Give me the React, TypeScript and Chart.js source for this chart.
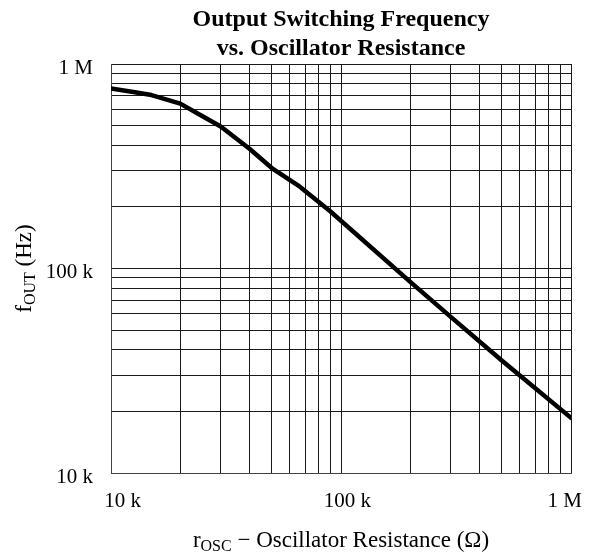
import React, { useEffect, useRef } from 'react';
import { Chart, registerables } from 'chart.js';

Chart.register(...registerables);

// Oscillator resistance (Ω) and output switching frequency (Hz)
const resistanceOhm = [10000, 12500, 15000, 20000, 25000, 30000, 40000, 50000, 65000, 90000, 200000, 300000, 500000, 1000000];
const frequencyHz = [760000, 730000, 705000, 640000, 555000, 495000, 385000, 310000, 255000, 190000, 86000, 58000, 35500, 18600];

// Grid lines (1-2-3-...-9 per decade) and labelled decade ticks
const gridValues = [
  10000, 20000, 30000, 40000, 50000, 60000, 70000, 80000, 90000,
  100000, 200000, 300000, 400000, 500000, 600000, 700000, 800000, 900000,
  1000000,
];
const decadeTicks = [10000, 100000, 1000000];
const decadeLabels = ['10 k', '100 k', '1 M'];

const titleLines = ['Output Switching Frequency', 'vs. Oscillator Resistance'];
const xTitleParts = ['r', 'OSC', ' \u2212 Oscillator Resistance (\u03A9)'];
const yTitleParts = ['f', 'OUT', ' (Hz)'];

const SERIF = '"Liberation Serif", "Times New Roman", serif';

function drawSubText(ctx: CanvasRenderingContext2D, parts: string[], cx: number, baseline: number) {
  const fonts = [`23px ${SERIF}`, `16px ${SERIF}`, `23px ${SERIF}`];
  const dys = [0, 4, 0];
  let total = 0;
  const widths = parts.map((p, i) => {
    ctx.font = fonts[i];
    const w = ctx.measureText(p).width;
    total += w;
    return w;
  });
  let x = cx - total / 2;
  ctx.textAlign = 'left';
  ctx.textBaseline = 'alphabetic';
  parts.forEach((p, i) => {
    ctx.font = fonts[i];
    ctx.fillText(p, x, baseline + dys[i]);
    x += widths[i];
  });
}

const textPlugin = {
  id: 'customTexts',
  afterDraw(chart: any) {
    const { ctx, chartArea, scales } = chart;
    const cx = (chartArea.left + chartArea.right) / 2;
    const cy = (chartArea.top + chartArea.bottom) / 2;
    ctx.save();
    ctx.fillStyle = '#000';
    ctx.textAlign = 'center';
    ctx.textBaseline = 'alphabetic';
    ctx.font = `bold 24px ${SERIF}`;
    ctx.fillText(titleLines[0], cx, 26);
    ctx.fillText(titleLines[1], cx, 55);

    // x decade labels: right edge just past the tick, kept inside the canvas
    ctx.font = `21px ${SERIF}`;
    ctx.textAlign = 'right';
    ctx.textBaseline = 'middle';
    decadeTicks.forEach((v, i) => {
      let x = scales.x.getPixelForValue(v) + 30;
      x = Math.min(x, chart.width - 8);
      ctx.fillText(decadeLabels[i], x, 501);
    });

    drawSubText(ctx, xTitleParts, cx, 547);

    ctx.translate(24, cy);
    ctx.rotate(-Math.PI / 2);
    drawSubText(ctx, yTitleParts, 0, 7);
    ctx.restore();
  },
};

export default function App() {
  const ref = useRef<HTMLCanvasElement | null>(null);

  useEffect(() => {
    document.body.style.margin = '0';
    const canvas = ref.current;
    if (!canvas) return;
    const gridOpts = { color: '#1a1a1a', lineWidth: 1, drawTicks: false };
    const chart = new Chart(canvas, {
      type: 'line',
      data: {
        datasets: [
          {
            data: resistanceOhm.map((r, i) => ({ x: r, y: frequencyHz[i] })),
            borderColor: '#000',
            borderWidth: 4.5,
            pointRadius: 0,
            tension: 0,
            fill: false,
            borderCapStyle: 'round',
            borderJoinStyle: 'round',
          },
        ],
      },
      options: {
        responsive: false,
        animation: false,
        devicePixelRatio: 1,
        layout: { padding: { top: 64, right: 19, left: 0, bottom: 0 } },
        plugins: {
          legend: { display: false },
          title: { display: false },
          tooltip: { enabled: false },
        },
        scales: {
          x: {
            type: 'logarithmic',
            min: 10000,
            max: 1000000,
            afterBuildTicks: (scale: any) => {
              scale.ticks = gridValues.map((v) => ({ value: v }));
            },
            afterFit: (scale: any) => {
              scale.height = 79;
            },
            grid: gridOpts,
            border: { color: '#444', width: 1 },
            ticks: { display: false, autoSkip: false },
          },
          y: {
            type: 'logarithmic',
            min: 10000,
            max: 1000000,
            afterBuildTicks: (scale: any) => {
              scale.ticks = gridValues.map((v) => ({ value: v }));
            },
            afterFit: (scale: any) => {
              scale.width = 111;
            },
            grid: gridOpts,
            border: { color: '#444', width: 1 },
            ticks: {
              autoSkip: false,
              padding: 18,
              labelOffset: 4,
              color: '#000',
              font: { family: SERIF, size: 21 },
              callback: (v: any) => {
                const idx = decadeTicks.indexOf(Number(v));
                return idx >= 0 ? decadeLabels[idx] : '';
              },
            },
          },
        },
      },
      plugins: [textPlugin],
    } as any);
    return () => chart.destroy();
  }, []);

  return <canvas ref={ref} width={590} height={552} style={{ display: 'block' }} />;
}
